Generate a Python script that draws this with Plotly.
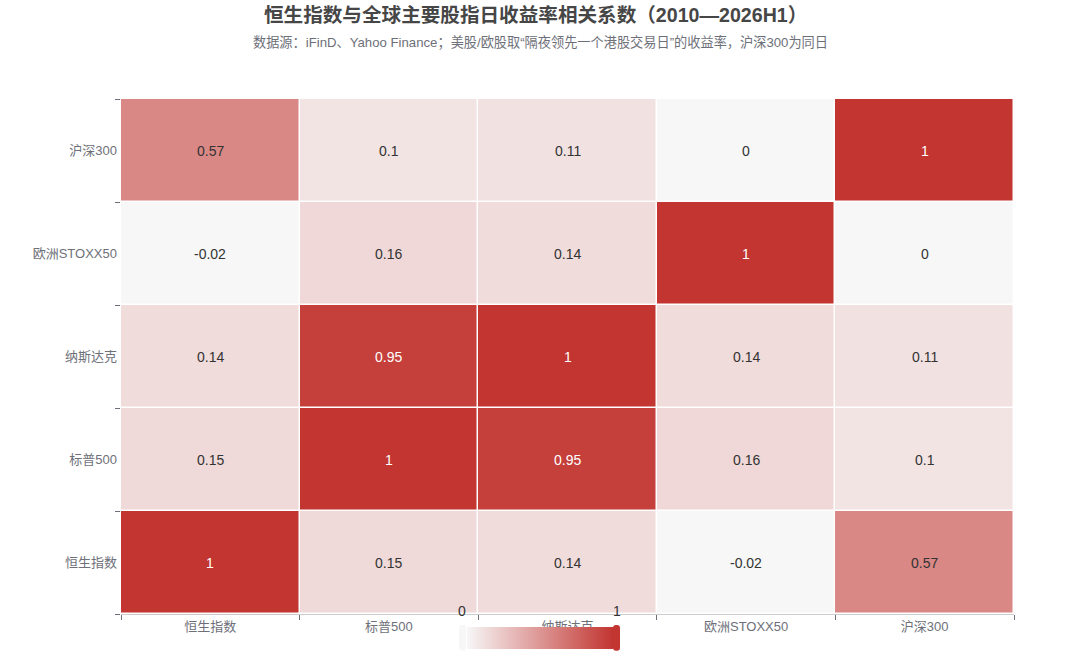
import plotly.graph_objects as go

x_labels = ["恒生指数", "标普500", "纳斯达克", "欧洲STOXX50", "沪深300"]
y_labels = ["恒生指数", "标普500", "纳斯达克", "欧洲STOXX50", "沪深300"]

row_hsi = [1, 0.15, 0.14, -0.02, 0.57]
row_spx = [0.15, 1, 0.95, 0.16, 0.1]
row_ndx = [0.14, 0.95, 1, 0.14, 0.11]
row_sx5e = [-0.02, 0.16, 0.14, 1, 0]
row_csi = [0.57, 0.1, 0.11, 0, 1]

z = [row_hsi, row_spx, row_ndx, row_sx5e, row_csi]

title_text = "恒生指数与全球主要股指日收益率相关系数（2010—2026H1）"
subtitle_text = "数据源：iFinD、Yahoo Finance；美股/欧股取“隔夜领先一个港股交易日”的收益率，沪深300为同日"

FONT = "Liberation Sans, Noto Sans CJK SC, sans-serif"
LOW, HIGH = "#f7f7f7", "#c23531"


def px(x):
    return (x - 121) / 893


def py(y):
    return (617 - y) / 518


fig = go.Figure()
fig.add_trace(go.Heatmap(
    z=z, x=x_labels, y=y_labels,
    zmin=0, zmax=1,
    colorscale=[[0, LOW], [1, HIGH]],
    xgap=1.5, ygap=1.5,
    hoverongaps=False,
    colorbar=dict(
        orientation="h",
        xref="paper", yref="paper",
        x=px(540), xanchor="center",
        y=py(630), yanchor="top",
        lenmode="pixels", len=146,
        thickness=22,
        outlinewidth=0,
        showticklabels=False, ticks="", ticklen=0,
        tickfont=dict(size=1),
        title=dict(text="", font=dict(size=1)),
        xpad=0, ypad=0,
    ),
))

annotations = []
for yi, yl in enumerate(y_labels):
    for xi, xl in enumerate(x_labels):
        v = z[yi][xi]
        annotations.append(dict(
            x=xl, y=yl, text=f"{v:g}", showarrow=False,
            font=dict(family=FONT, size=14, color="#ffffff" if v >= 0.9 else "#333333"),
        ))

# visual map end labels
annotations.append(dict(xref="paper", yref="paper", x=px(462), y=py(614), yanchor="middle",
                        text="0", showarrow=False, font=dict(family=FONT, size=14, color="#333333")))
annotations.append(dict(xref="paper", yref="paper", x=px(617), y=py(614), yanchor="middle",
                        text="1", showarrow=False, font=dict(family=FONT, size=14, color="#333333")))

annotations.append(dict(xref="paper", yref="paper", x=px(535), y=py(15),
                        text="<b>" + title_text + "</b>", showarrow=False, yanchor="middle",
                        font=dict(family=FONT, size=19.6, color="#464646")))
annotations.append(dict(xref="paper", yref="paper", x=px(540), y=py(42),
                        text=subtitle_text, showarrow=False, yanchor="middle",
                        font=dict(family=FONT, size=13.2, color="#6e7079")))


def rounded_rect(x0, y0, x1, y1, r):
    return (f"M {px(x0 + r)},{py(y0)} L {px(x1 - r)},{py(y0)} Q {px(x1)},{py(y0)} {px(x1)},{py(y0 + r)} "
            f"L {px(x1)},{py(y1 - r)} Q {px(x1)},{py(y1)} {px(x1 - r)},{py(y1)} "
            f"L {px(x0 + r)},{py(y1)} Q {px(x0)},{py(y1)} {px(x0)},{py(y1 - r)} "
            f"L {px(x0)},{py(y0 + r)} Q {px(x0)},{py(y0)} {px(x0 + r)},{py(y0)} Z")


shapes = [
    dict(type="path", xref="paper", yref="paper", path=rounded_rect(459, 628, 466, 654, 3),
         fillcolor=LOW, line=dict(width=0), layer="above"),
    dict(type="path", xref="paper", yref="paper", path=rounded_rect(613, 628, 620, 654, 3),
         fillcolor=HIGH, line=dict(width=0), layer="above"),
]

fig.update_layout(
    width=1080, height=661,
    margin=dict(l=121, r=66, t=99, b=44),
    paper_bgcolor="white", plot_bgcolor="white",
    font=dict(family=FONT, size=13, color="#6e7079"),
    annotations=annotations,
    shapes=shapes,
    xaxis=dict(
        type="category", tickson="boundaries", ticks="outside", ticklen=5,
        tickcolor="#6e7079", showline=True, linecolor="#cccccc", linewidth=1,
        showgrid=False, zeroline=False, tickfont=dict(size=13, color="#6e7079"),
        fixedrange=True, automargin=False,
    ),
    yaxis=dict(
        type="category", tickson="boundaries", ticks="outside", ticklen=5,
        tickcolor="#6e7079", showline=False, showgrid=False, zeroline=False,
        tickfont=dict(size=13, color="#6e7079"), ticklabelstandoff=3,
        fixedrange=True, automargin=False,
    ),
)

fig.write_html("out.html", post_script="document.body.style.margin='0';",
               config={"displayModeBar": False})
